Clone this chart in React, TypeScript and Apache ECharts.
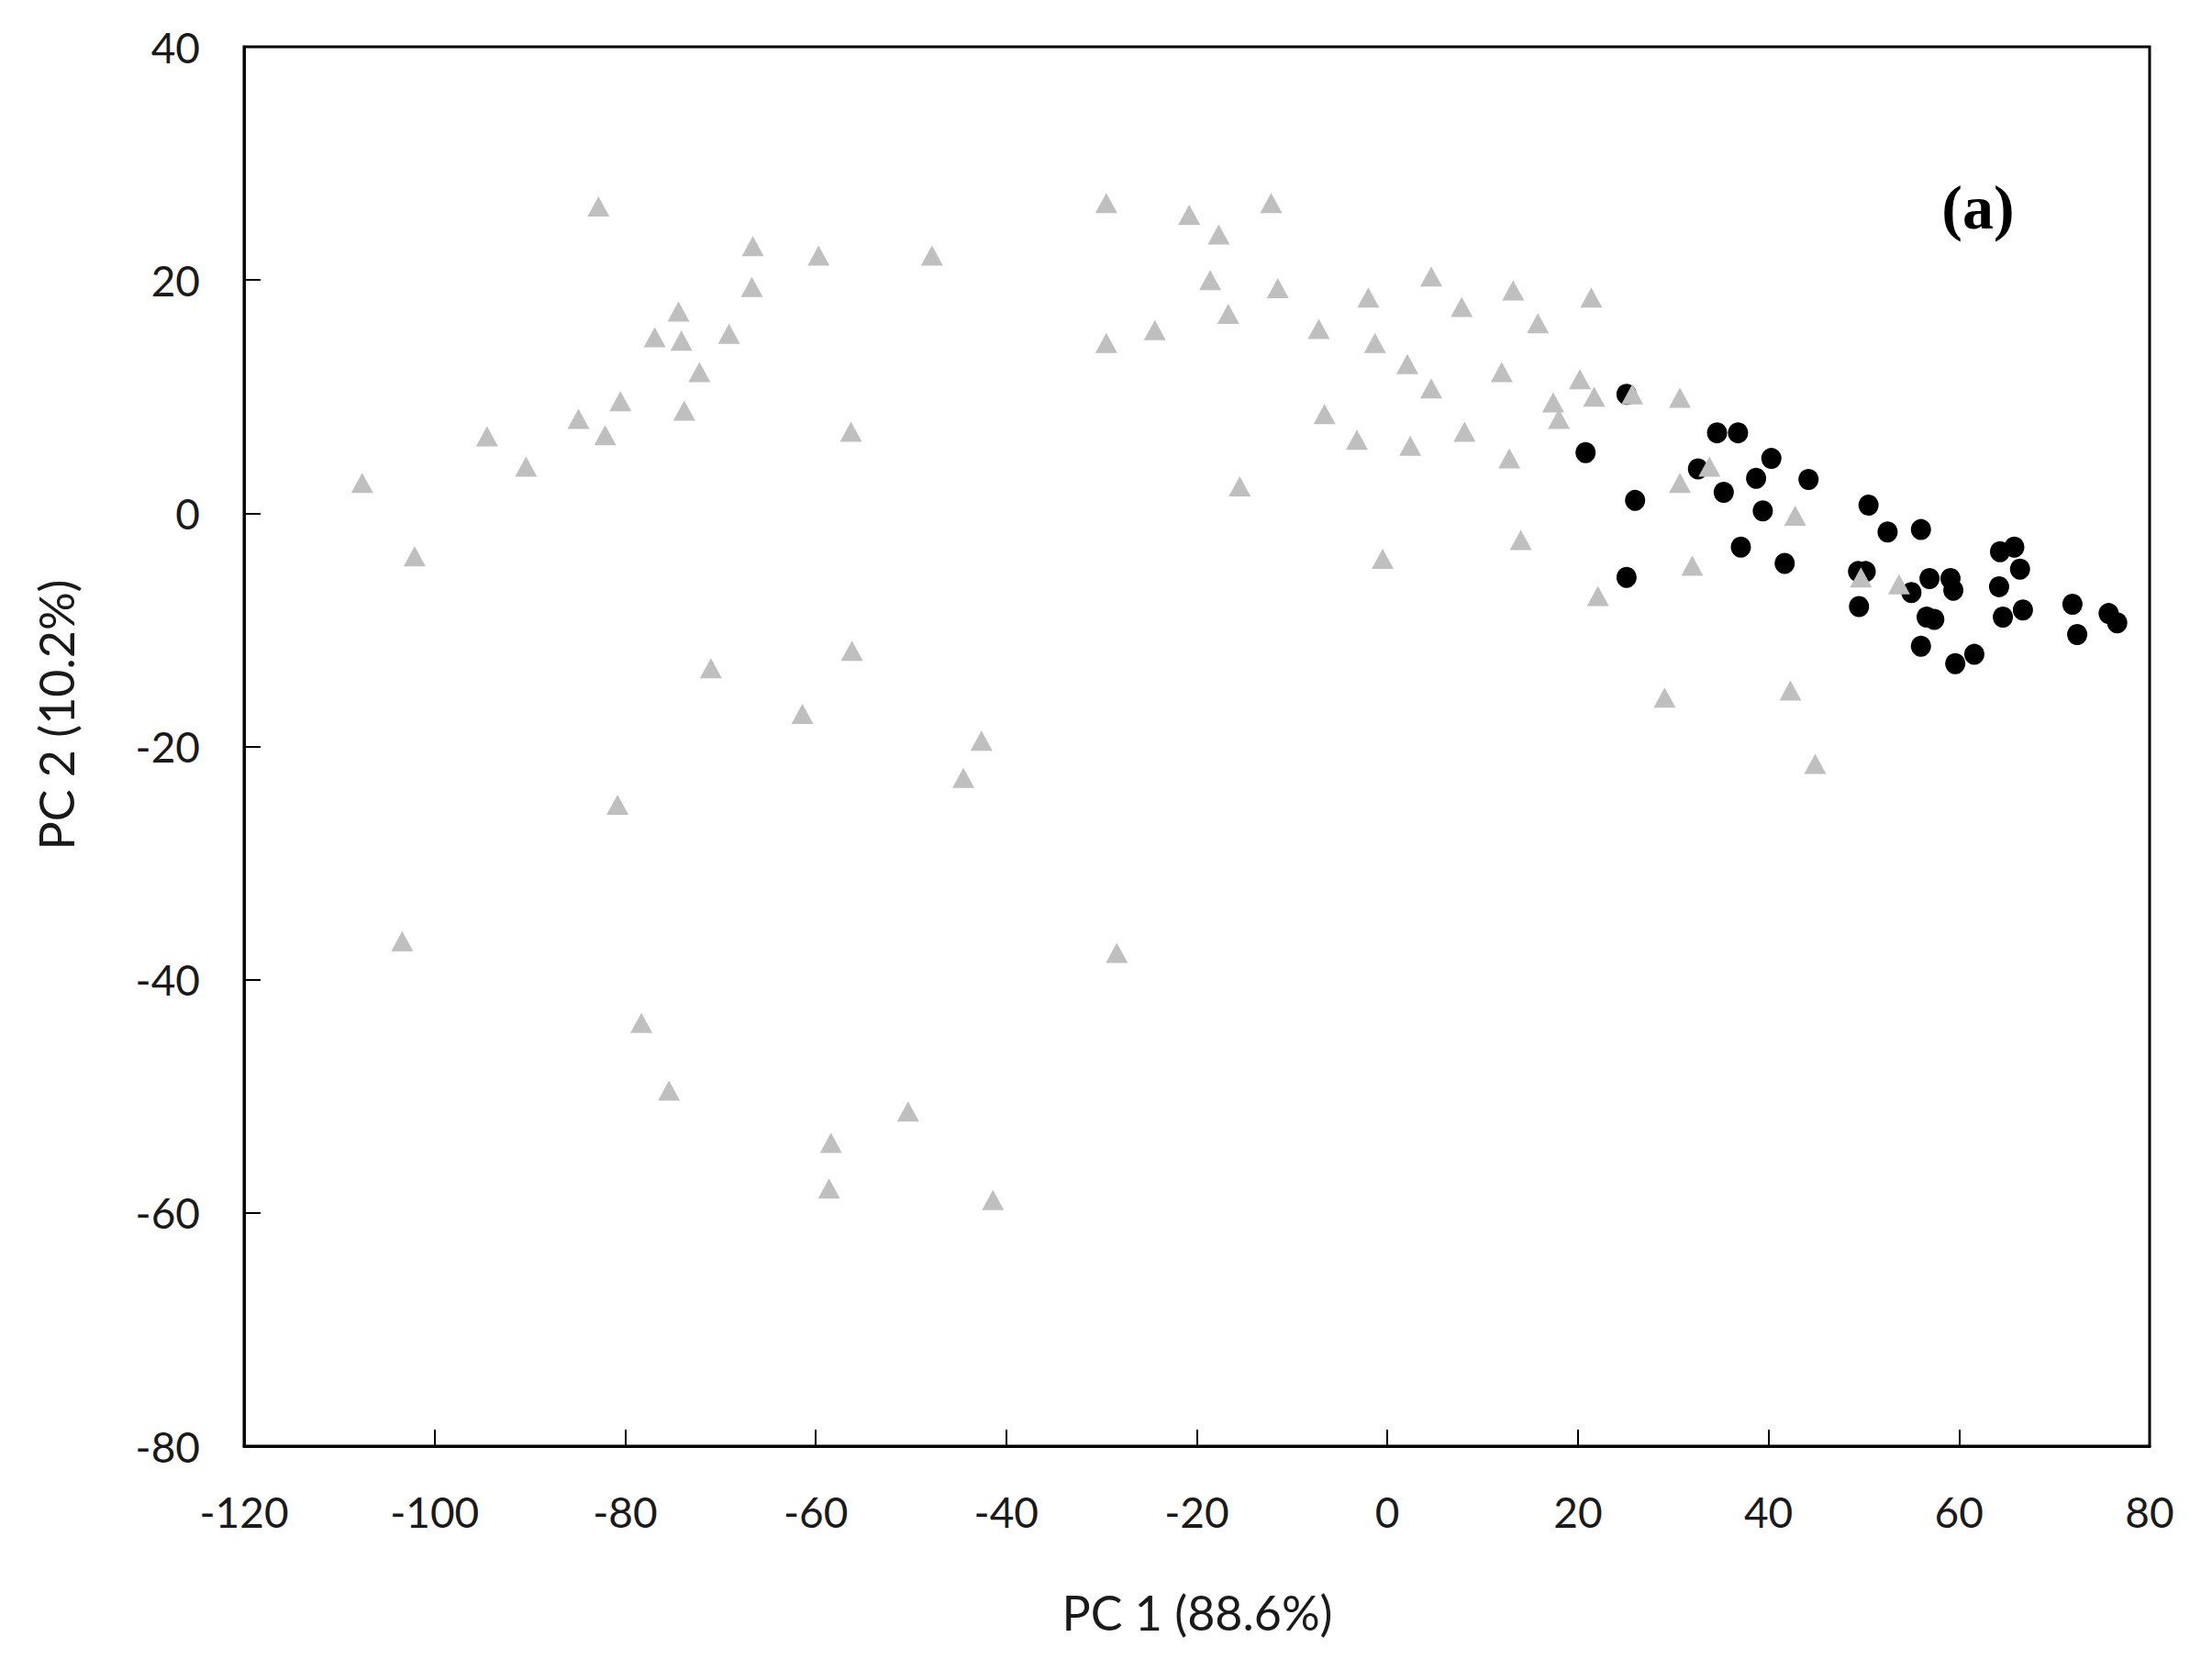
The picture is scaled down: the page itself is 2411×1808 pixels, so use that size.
import React, { useEffect, useRef } from "react";
import * as echarts from "echarts";

// Group A (grey triangles): [PC1, PC2]
const triangles: [number, number][] = [
  [-107.6, 2.6], [-102.1, -3.7], [-103.4, -36.7], [-94.5, 6.6], [-90.4, 4.0],
  [-84.9, 8.1], [-82.8, 26.3], [-82.1, 6.7], [-80.5, 9.6], [-80.8, -25.0],
  [-78.3, -43.7], [-76.9, 15.1], [-74.4, 17.3], [-74.1, 14.8], [-73.8, 8.8],
  [-72.2, 12.1], [-75.4, -49.5], [-71.0, -13.3], [-69.1, 15.4], [-66.7, 19.4],
  [-66.6, 22.9], [-61.4, -17.2], [-59.7, 22.1], [-58.4, -54.0], [-58.6, -57.9],
  [-56.3, 7.0], [-56.2, -11.8], [-50.3, -51.3], [-47.8, 22.1], [-42.6, -19.5],
  [-44.5, -22.7], [-41.4, -58.9], [-29.5, 26.6], [-29.5, 14.6], [-28.4, -37.7],
  [-24.4, 15.7], [-20.8, 25.6], [-17.7, 23.9], [-18.6, 20.0], [-16.7, 17.1],
  [-15.5, 2.3], [-12.2, 26.6], [-11.5, 19.3], [-7.2, 15.8], [-6.6, 8.5],
  [-3.2, 6.3], [-2.0, 18.5], [-1.3, 14.6], [-0.5, -3.9], [2.1, 12.8],
  [2.4, 5.8], [4.6, 20.3], [4.6, 10.7], [7.8, 17.7], [8.1, 7.0],
  [12.0, 12.1], [12.8, 4.7], [13.2, 19.1], [14.0, -2.3], [15.8, 16.3],
  [17.4, 9.5], [18.0, 8.1], [20.2, 11.5], [21.4, 18.5], [21.7, 10.0],
  [22.1, -7.1], [25.7, 10.2], [30.7, 9.9], [30.7, 2.6], [32.0, -4.5],
  [29.1, -15.8], [33.8, 4.0], [42.8, -0.2], [42.3, -15.2], [44.9, -21.5],
  [49.7, -5.5], [53.7, -6.1],
];

// Group B (black circles): [PC1, PC2]
const circles: [number, number][] = [
  [25.1, 10.2], [20.8, 5.2], [26.0, 1.1], [25.1, -5.5], [32.6, 3.8],
  [34.6, 6.9], [36.8, 6.9], [35.3, 1.8], [37.1, -2.9], [38.7, 3.0],
  [40.3, 4.7], [39.4, 0.2], [44.2, 2.9], [41.7, -4.3], [50.5, 0.7],
  [52.5, -1.6], [56.0, -1.4], [49.4, -5.0], [50.2, -5.0], [49.5, -8.0],
  [55.0, -6.8], [56.9, -5.6], [59.1, -5.6], [59.4, -6.6], [56.6, -8.9],
  [57.4, -9.1], [56.0, -11.4], [59.6, -12.9], [61.6, -12.1], [64.3, -3.3],
  [65.8, -2.9], [64.2, -6.3], [66.4, -4.8], [64.6, -8.9], [66.7, -8.3],
  [71.9, -7.8], [72.4, -10.4], [75.7, -8.6], [76.6, -9.4],
];

const xTicks = { min: -120, max: 80, interval: 20 };
const yTicks = { min: -80, max: 40, interval: 20 };

const xTitle = "PC 1 (88.6%)";
const yTitle = "PC 2 (10.2%)";
const panelLabel = "(a)";

export default function App() {
  const ref = useRef<HTMLDivElement>(null);
  useEffect(() => {
    document.body.style.margin = "0";
    if (!ref.current) return;
    const chart = echarts.init(ref.current, undefined, { renderer: "svg" });
    const labelFont = "Lato, 'Open Sans', sans-serif";
    chart.setOption({
      animation: false,
      backgroundColor: "#ffffff",
      grid: {
        left: 266,
        top: 51,
        width: 2077,
        height: 1525,
        show: true,
        borderColor: "#000",
        borderWidth: 3,
        backgroundColor: "transparent",
      },
      xAxis: {
        type: "value",
        min: xTicks.min,
        max: xTicks.max,
        interval: xTicks.interval,
        splitLine: { show: false },
        axisLine: { show: true, onZero: false, lineStyle: { color: "#000", width: 3 } },
        axisTick: { show: true, inside: true, length: 18, lineStyle: { color: "#000", width: 2 } },
        axisLabel: { margin: 48, fontSize: 46, color: "#1a1a1a", fontFamily: labelFont },
      },
      yAxis: {
        type: "value",
        min: yTicks.min,
        max: yTicks.max,
        interval: yTicks.interval,
        splitLine: { show: false },
        axisLine: { show: true, onZero: false, lineStyle: { color: "#000", width: 3 } },
        axisTick: { show: true, inside: true, length: 18, lineStyle: { color: "#000", width: 2 } },
        axisLabel: { margin: 48, fontSize: 46, color: "#1a1a1a", fontFamily: labelFont },
      },
      graphic: [
        {
          type: "text",
          x: 1305,
          y: 1757,
          style: {
            text: xTitle,
            fontSize: 52,
            fontFamily: labelFont,
            fill: "#1a1a1a",
            align: "center",
            verticalAlign: "middle",
          },
        },
        {
          type: "text",
          x: 61,
          y: 779,
          rotation: Math.PI / 2,
          style: {
            text: yTitle,
            fontSize: 52,
            fontFamily: labelFont,
            fill: "#1a1a1a",
            align: "center",
            verticalAlign: "middle",
          },
        },
        {
          type: "text",
          x: 2156,
          y: 226,
          style: {
            text: panelLabel,
            fontSize: 68,
            fontWeight: "bold",
            fontFamily: "'Liberation Serif', 'DejaVu Serif', serif",
            fill: "#000",
            align: "center",
            verticalAlign: "middle",
          },
        },
      ],
      series: [
        {
          type: "scatter",
          data: circles,
          symbol: "circle",
          symbolSize: [22, 23],
          itemStyle: { color: "#000000", opacity: 1 },
          z: 2,
        },
        {
          type: "scatter",
          data: triangles,
          symbol: "triangle",
          symbolSize: [24, 22],
          itemStyle: { color: "#BFBFBF", opacity: 1 },
          z: 3,
        },
      ],
    });
    return () => chart.dispose();
  }, []);
  return <div ref={ref} style={{ width: 2411, height: 1808 }} />;
}
